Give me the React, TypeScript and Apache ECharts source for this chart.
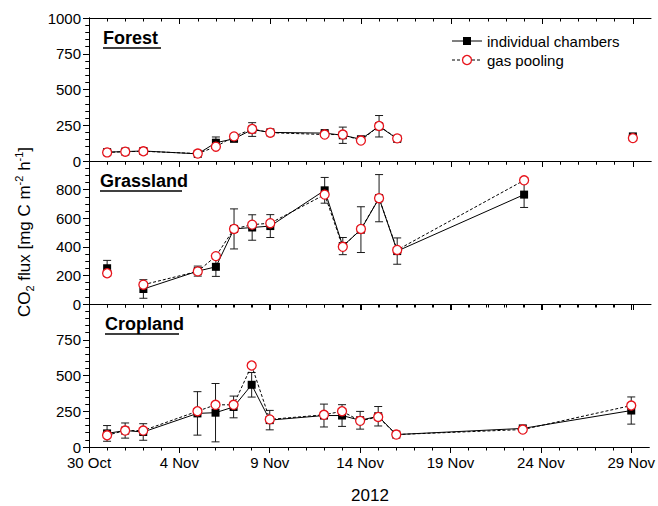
import React, { useEffect, useRef } from 'react';
import * as echarts from 'echarts';

// Measurement dates (2012)
const dates = ['2012-10-31', '2012-11-01', '2012-11-02', '2012-11-05', '2012-11-06', '2012-11-07', '2012-11-08',
  '2012-11-09', '2012-11-12', '2012-11-13', '2012-11-14', '2012-11-15', '2012-11-16', '2012-11-23', '2012-11-29'];
const axisStart = '2012-10-30';
const xTickLabels = ['30 Oct', '4 Nov', '9 Nov', '14 Nov', '19 Nov', '24 Nov', '29 Nov'];

const panelNames = ['Forest', 'Grassland', 'Cropland'];
const legendNames = ['individual chambers', 'gas pooling'];

// CO2 flux [mg C m-2 h-1]
const forestIndividual = [62, 66, 70, 50, 128, 155, 220, 200, 195, 180, 152, 243, 155, null, 172];
const forestIndividualErr = [10, 10, 10, 8, 40, 15, 48, 12, 12, 57, 15, 75, 18, null, 12];
const forestPooling = [60, 65, 68, 52, 100, 172, 224, 198, 185, 185, 143, 245, 158, null, 160];

const grassIndividual = [250, null, 105, 230, 260, 525, 535, 545, 795, 405, 520, 740, 370, 765, null];
const grassIndividualErr = [55, null, 65, 35, 67, 140, 89, 80, 90, 60, 160, 165, 92, 90, null];
const grassPooling = [215, null, 135, 228, 335, 525, 555, 565, 765, 400, 525, 740, 378, 865, null];

const cropIndividual = [95, 115, 105, 235, 240, 280, 435, 188, 220, 220, 187, 215, 87, 130, 255];
const cropIndividualErr = [55, 53, 58, 152, 204, 76, 86, 68, 80, 76, 62, 68, 8, 8, 95];
const cropPooling = [82, 115, 115, 250, 295, 295, 570, 193, 225, 250, 183, 210, 87, 122, 290];

const yTickStep = [250, 200, 250];
const yMinorSplit = [5, 4, 5];

const FONT = "'Liberation Sans', Arial, sans-serif";

const dayOf = (d: string) => Math.round((Date.parse(d) - Date.parse(axisStart)) / 86400000);
const majorDays = [0, 5, 10, 15, 20, 25, 30];
const minorDays = Array.from({ length: 31 }, (_, i) => i).filter(d => d % 5 !== 0);

const panels = [
  { ind: forestIndividual, err: forestIndividualErr, pool: forestPooling },
  { ind: grassIndividual, err: grassIndividualErr, pool: grassPooling },
  { ind: cropIndividual, err: cropIndividualErr, pool: cropPooling },
];

const GRID_LEFT = 89;
const GRID_W = 562;
const GRID_TOPS = [18, 161, 304];
const GRID_H = 143;

export default function App() {
  const ref = useRef<HTMLDivElement>(null);
  useEffect(() => {
    if (!ref.current) return;
    const chart = echarts.init(ref.current, undefined, { renderer: 'svg' });
    const grid: any[] = [];
    const xAxis: any[] = [];
    const yAxis: any[] = [];
    const series: any[] = [];
    const graphic: any[] = [];
    const axisLine = { show: true, lineStyle: { color: '#000', width: 1 } };

    panels.forEach((p, i) => {
      grid.push({ left: GRID_LEFT, top: GRID_TOPS[i], width: GRID_W, height: GRID_H });
      const base = { type: 'value', gridIndex: i, min: 0, max: 31, splitLine: { show: false } };
      const isLast = i === 2;
      // bottom major
      xAxis.push({
        ...base, position: 'bottom', interval: 5, axisLine,
        axisTick: { show: true, length: 6, customValues: majorDays, lineStyle: { color: '#000' } },
        axisLabel: {
          show: isLast, customValues: majorDays, margin: 8, color: '#000', fontSize: 15, fontFamily: FONT,
          formatter: (v: number) => { const k = majorDays.indexOf(Math.round(v)); return k >= 0 ? xTickLabels[k] : ''; },
        },
      });
      // bottom minor
      xAxis.push({
        ...base, position: 'bottom', interval: 1, axisLine: { show: false },
        axisTick: { show: true, length: 3.5, customValues: minorDays, lineStyle: { color: '#000' } },
        axisLabel: { show: false },
      });
      // top major (mirror)
      xAxis.push({
        ...base, position: 'top', interval: 5, axisLine,
        axisTick: { show: true, inside: true, length: 6, customValues: majorDays, lineStyle: { color: '#000' } },
        axisLabel: { show: false },
      });
      // top minor
      xAxis.push({
        ...base, position: 'top', interval: 1, axisLine: { show: false },
        axisTick: { show: true, inside: true, length: 3.5, customValues: minorDays, lineStyle: { color: '#000' } },
        axisLabel: { show: false },
      });
      const yBase = { type: 'value', gridIndex: i, min: 0, max: 1000, interval: yTickStep[i], splitLine: { show: false } };
      yAxis.push({
        ...yBase, position: 'left', axisLine,
        axisTick: { show: true, length: 6, lineStyle: { color: '#000' } },
        minorTick: { show: true, splitNumber: yMinorSplit[i], length: 3.5, lineStyle: { color: '#000' } },
        axisLabel: {
          show: true, color: '#000', fontSize: 15, fontFamily: FONT, margin: 8, showMaxLabel: i === 0,
          formatter: (v: number) => String(v),
        },
      });
      yAxis.push({
        ...yBase, position: 'right', axisLine,
        axisTick: { show: true, inside: true, length: 6, lineStyle: { color: '#000' } },
        minorTick: { show: true, splitNumber: yMinorSplit[i], length: 3.5, lineStyle: { color: '#000' } },
        axisLabel: { show: false },
      });

      const xs = dates.map(dayOf);
      const errData = xs
        .map((x, k) => (p.ind[k] == null ? null : [x, (p.ind[k] as number) - (p.err[k] as number), (p.ind[k] as number) + (p.err[k] as number)]))
        .filter(Boolean);
      series.push({
        type: 'custom', name: 'err' + i, xAxisIndex: 4 * i, yAxisIndex: 2 * i, data: errData,
        encode: { x: 0, y: [1, 2] }, z: 2, silent: true,
        renderItem: (_params: any, api: any) => {
          const x = api.value(0);
          const a = api.coord([x, api.value(1)]);
          const b = api.coord([x, api.value(2)]);
          const w = 4;
          const style = { stroke: '#1a1a1a', lineWidth: 1, fill: 'none' };
          return {
            type: 'group',
            children: [
              { type: 'line', shape: { x1: a[0], y1: a[1], x2: b[0], y2: b[1] }, style },
              { type: 'line', shape: { x1: a[0] - w, y1: a[1], x2: a[0] + w, y2: a[1] }, style },
              { type: 'line', shape: { x1: b[0] - w, y1: b[1], x2: b[0] + w, y2: b[1] }, style },
            ],
          };
        },
      });
      series.push({
        type: 'line', name: legendNames[0], xAxisIndex: 4 * i, yAxisIndex: 2 * i, z: 3,
        data: xs.map((x, k) => [x, p.ind[k] == null ? '-' : p.ind[k]]),
        connectNulls: false, symbol: 'rect', symbolSize: 8,
        lineStyle: { color: '#000', width: 1, type: 'solid' },
        itemStyle: { color: '#000', borderWidth: 0 },
      });
      series.push({
        type: 'line', name: legendNames[1], xAxisIndex: 4 * i, yAxisIndex: 2 * i, z: 4,
        data: xs.map((x, k) => [x, p.pool[k] == null ? '-' : p.pool[k]]),
        connectNulls: false, symbol: 'circle', symbolSize: 9,
        lineStyle: { color: '#000', width: 1, type: [3, 2] },
        itemStyle: { color: '#fff', borderColor: '#e8141c', borderWidth: 1.3 },
      });

      // panel title with underline
      const tx = [103, 100, 105][i];
      const ty = GRID_TOPS[i] + 11;
      graphic.push({
        type: 'text', left: tx, top: ty,
        style: { text: panelNames[i], font: `bold 18px ${FONT}`, fill: '#000' },
      });
      const uw = [58, 82, 74][i];
      graphic.push({
        type: 'line', shape: { x1: tx, y1: ty + 19, x2: tx + uw, y2: ty + 19 },
        style: { stroke: '#000', lineWidth: 1.5 },
      });
    });

    // legend
    const lx1 = 452, lx2 = 482, lcx = 467;
    const ly = [41, 60];
    graphic.push({ type: 'line', shape: { x1: lx1, y1: ly[0], x2: lx2, y2: ly[0] }, style: { stroke: '#000', lineWidth: 1 } });
    graphic.push({ type: 'rect', shape: { x: lcx - 4, y: ly[0] - 4, width: 8, height: 8 }, style: { fill: '#000' } });
    graphic.push({ type: 'text', x: 487, y: ly[0], style: { text: legendNames[0], font: `15px ${FONT}`, fill: '#000', verticalAlign: 'middle' } });
    graphic.push({ type: 'line', shape: { x1: lx1, y1: ly[1], x2: lx2, y2: ly[1] }, style: { stroke: '#000', lineWidth: 1, lineDash: [3, 2] } });
    graphic.push({ type: 'circle', shape: { cx: lcx, cy: ly[1], r: 4.5 }, style: { fill: '#fff', stroke: '#e8141c', lineWidth: 1.3 } });
    graphic.push({ type: 'text', x: 487, y: ly[1], style: { text: legendNames[1], font: `15px ${FONT}`, fill: '#000', verticalAlign: 'middle' } });

    // axis titles
    graphic.push({
      type: 'text', x: 370, y: 495,
      style: { text: '2012', font: `17px ${FONT}`, fill: '#000', align: 'center', verticalAlign: 'middle' },
    });
    graphic.push({
      type: 'text', x: 24, y: 232, rotation: Math.PI / 2,
      style: {
        text: '{n|CO}{sub|2}{n| flux [mg C m}{sup|-2}{n| h}{sup|-1}{n|]}',
        align: 'center', verticalAlign: 'middle', fill: '#000',
        rich: {
          n: { fontSize: 17, fontFamily: FONT, lineHeight: 22, fill: '#000' },
          sub: { fontSize: 11, fontFamily: FONT, verticalAlign: 'bottom', fill: '#000' },
          sup: { fontSize: 11, fontFamily: FONT, verticalAlign: 'top', fill: '#000' },
        },
      },
    });

    chart.setOption({
      animation: false,
      backgroundColor: '#fff',
      textStyle: { fontFamily: FONT },
      grid, xAxis, yAxis, series, graphic,
    });
    return () => chart.dispose();
  }, []);
  return <div ref={ref} style={{ position: 'absolute', left: 0, top: 0, width: 658, height: 506 }} />;
}
